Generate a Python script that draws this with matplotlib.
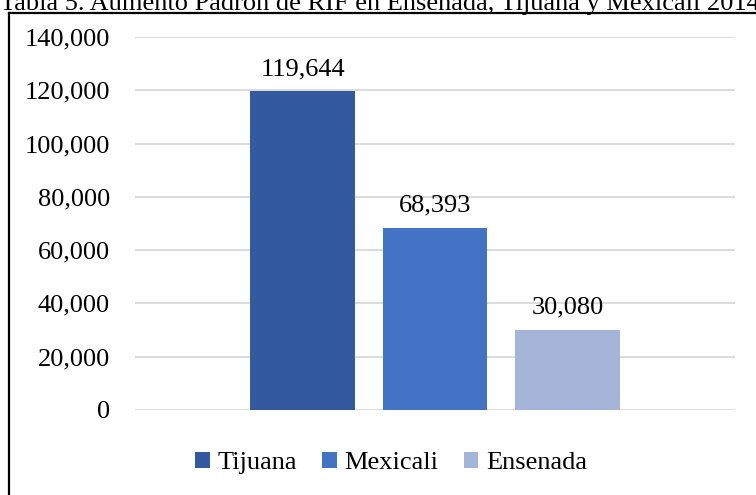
import matplotlib
matplotlib.use("Agg")
import matplotlib.pyplot as plt
from matplotlib.lines import Line2D
from matplotlib.ticker import FuncFormatter

series = ["Tijuana", "Mexicali", "Ensenada"]
values = [119644, 68393, 30080]
colors = ["#335AA1", "#4472C4", "#A5B5DA"]
yticks = [0, 20000, 40000, 60000, 80000, 100000, 120000, 140000]
title = "Tabla 5. Aumento Padrón de RIF en Ensenada, Tijuana y Mexicali 2014-2018"

plt.rcParams['font.family'] = ['Liberation Serif', 'DejaVu Serif']
FS = 19

W, H = 756, 495
fig = plt.figure(figsize=(W / 100, H / 100), dpi=100)
ax = fig.add_axes([135 / W, 1 - 410 / H, 600 / W, (410 - 37) / H])

positions = [-1, 0, 1]
bars = []
for p, v, c, s in zip(positions, values, colors, series):
    b = ax.bar(p, v, width=0.79, color=c, label=s, zorder=3)
    bars.append(b)
    ax.annotate(f"{v:,}", xy=(p, v), xytext=(0, 8), textcoords="offset points",
                ha="center", va="bottom", fontsize=FS, color="#000000")

ax.set_xlim(-2.264, 2.264)
ax.set_ylim(0, 140000)
ax.set_yticks(yticks)
ax.yaxis.set_major_formatter(FuncFormatter(lambda v, _: f"{int(v):,}"))
ax.set_xticks([])
ax.grid(axis="y", color="#D9D9D9", linewidth=1.3, zorder=0)
for sp in ax.spines.values():
    sp.set_visible(False)
ax.tick_params(axis="y", length=0, pad=18, labelsize=FS, labelcolor="#000000")

leg = fig.legend(handles=[b[0] for b in bars], labels=series, loc="center",
                 bbox_to_anchor=(391 / W, 1 - 463 / H), ncol=3, frameon=False,
                 fontsize=FS, handlelength=0.55, handleheight=0.55,
                 handletextpad=0.3, columnspacing=0.95)

# document frame and cropped title
fig.add_artist(Line2D([9 / W, 9 / W], [0, 1 - 13 / H], transform=fig.transFigure,
                      color="black", linewidth=1.6))
fig.add_artist(Line2D([9 / W, 1], [1 - 13 / H, 1 - 13 / H], transform=fig.transFigure,
                      color="black", linewidth=1.6))
fig.text(0 / W, 1 - 10 / H, title, fontsize=FS, ha="left", va="baseline", color="black")

fig.savefig("out.png", dpi=100)
